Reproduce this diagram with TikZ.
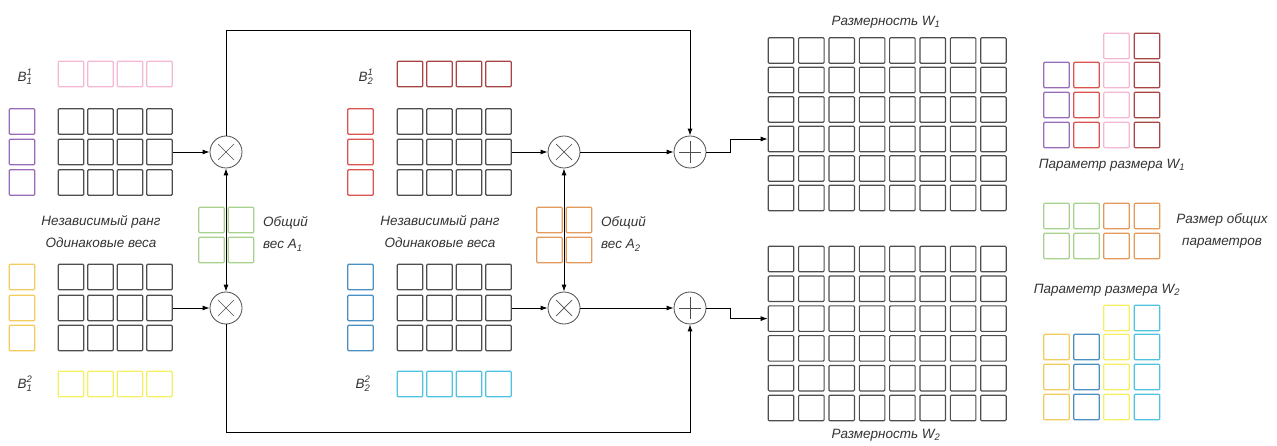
\documentclass[tikz,border=0pt]{standalone}
\usepackage{fontspec}
\usepackage{amsmath}
\setmainfont{Liberation Sans}
\usetikzlibrary{arrows.meta, positioning}

\definecolor{cellgray}{HTML}{4D4D4D}
\definecolor{txtgray}{HTML}{333333}
\definecolor{pinkc}{HTML}{F4B8D4}
\definecolor{purplec}{HTML}{9A6BB8}
\definecolor{redc}{HTML}{D9534F}
\definecolor{darkredc}{HTML}{A84444}
\definecolor{greenc}{HTML}{A9D18E}
\definecolor{orangec}{HTML}{E39A5B}
\definecolor{goldc}{HTML}{F2CC5C}
\definecolor{yellowc}{HTML}{F5F063}
\definecolor{bluec}{HTML}{4A8FC2}
\definecolor{cyanc}{HTML}{4EC3E0}

\tikzset{
  cell/.style={draw=cellgray, line width=1.1pt, minimum size=25.5pt, inner sep=0pt, rounded corners=1pt},
  op/.style={draw=cellgray, circle, line width=0.8pt, minimum size=32pt, inner sep=0pt, fill=white},
  mul/.style={op, path picture={
      \draw[line width=0.7pt] ([shift={(-8pt,-8pt)}]path picture bounding box.center) -- ++(16pt,16pt)
        ([shift={(-8pt,8pt)}]path picture bounding box.center) -- ++(16pt,-16pt);}},
  add/.style={op, path picture={
      \draw[line width=0.7pt] ([shift={(-11pt,0pt)}]path picture bounding box.center) -- ++(22pt,0pt)
        ([shift={(0pt,-11pt)}]path picture bounding box.center) -- ++(0pt,22pt);}},
  lbl/.style={font=\fontsize{13.5}{22}\selectfont\itshape, text=txtgray, align=center, inner sep=0pt},
  link/.style={line width=0.9pt, -{Latex[length=7pt,width=5pt]}},
}

\begin{document}
\begin{tikzpicture}[x=1pt, y=-1pt]
  \useasboundingbox (0,0) rectangle (1277,446);

  % Weight grids
  \foreach \r/\ya/\yb in {1/121.5/277, 2/152/308, 3/182.5/338}{
    \foreach \c in {1,...,4}{
      \node[cell] (la-\r-\c) at ({71+29.5*(\c-1)},\ya) {};
      \node[cell] (lb-\r-\c) at ({71+29.5*(\c-1)},\yb) {};
      \node[cell] (ma-\r-\c) at ({410+29.5*(\c-1)},\ya) {};
      \node[cell] (mb-\r-\c) at ({410+29.5*(\c-1)},\yb) {};
    }
    \node[cell, draw=purplec] (pa-\r) at (22,\ya) {};
    \node[cell, draw=goldc] (pb-\r) at (22,\yb) {};
    \node[cell, draw=redc] (ra-\r) at (360.5,\ya) {};
    \node[cell, draw=bluec] (rb-\r) at (360.5,\yb) {};
  }
  \foreach \c in {1,...,4}{
    \node[cell, draw=pinkc] (ba-\c) at ({71+29.5*(\c-1)},74) {};
    \node[cell, draw=yellowc] (bb-\c) at ({71+29.5*(\c-1)},384) {};
    \node[cell, draw=darkredc] (ca-\c) at ({410+29.5*(\c-1)},74) {};
    \node[cell, draw=cyanc] (cb-\c) at ({410+29.5*(\c-1)},384) {};
  }

  % Shared weights
  \foreach \r/\y in {1/220, 2/250}{
    \foreach \c/\x in {1/211.5, 2/241}{
      \node[cell, draw=greenc] (sa-\r-\c) at (\x,\y) {};
    }
    \foreach \c/\x in {1/549.5, 2/579}{
      \node[cell, draw=orangec] (sb-\r-\c) at (\x,\y) {};
    }
  }

  % Output grids
  \foreach \r in {1,...,6}{
    \foreach \c in {1,...,8}{
      \node[cell] (wa-\r-\c) at ({781+30.35*(\c-1)},{50.5+29.5*(\r-1)}) {};
      \node[cell] (wb-\r-\c) at ({781+30.35*(\c-1)},{259+29.8*(\r-1)}) {};
    }
  }

  % Legend
  \foreach \y in {75, 105, 135}{
    \node[cell, draw=purplec] at (1056.5,\y) {};
    \node[cell, draw=redc] at (1086.5,\y) {};
  }
  \foreach \y in {46, 75, 105, 135}{
    \node[cell, draw=pinkc] at (1116.5,\y) {};
    \node[cell, draw=darkredc] at (1147,\y) {};
  }
  \foreach \y in {216, 246}{
    \node[cell, draw=greenc] at (1056.5,\y) {};
    \node[cell, draw=greenc] at (1086.5,\y) {};
    \node[cell, draw=orangec] at (1116.5,\y) {};
    \node[cell, draw=orangec] at (1147,\y) {};
  }
  \foreach \y in {347, 377, 407}{
    \node[cell, draw=goldc] at (1056.5,\y) {};
    \node[cell, draw=bluec] at (1086.5,\y) {};
  }
  \foreach \y in {318, 347, 377, 407}{
    \node[cell, draw=yellowc] at (1116.5,\y) {};
    \node[cell, draw=cyanc] at (1147,\y) {};
  }

  % Operators
  \node[mul] (m1) at (226,152) {};
  \node[mul] (m2) at (226,308) {};
  \node[mul] (m3) at (564,152) {};
  \node[mul] (m4) at (564,308) {};
  \node[add] (p1) at (690,152) {};
  \node[add] (p2) at (690,308) {};
  \coordinate (tl) at (226,30);
  \coordinate (bl) at (226,432);
  \coordinate (k1) at (730,152);
  \coordinate (k2) at (730,308);

  % Labels
  \node[lbl] (b11) at (25,77) {B$_{\text{1}}^{\text{1}}$};
  \node[lbl] (b12) at (25,384) {B$_{\text{1}}^{\text{2}}$};
  \node[lbl] (b21) at (366,77) {B$_{\text{2}}^{\text{1}}$};
  \node[lbl] (b22) at (363,384) {B$_{\text{2}}^{\text{2}}$};
  \node[lbl] (ir1) at (101,232) {Независимый ранг\\Одинаковые веса};
  \node[lbl] (ir2) at (440,232) {Независимый ранг\\Одинаковые веса};
  \node[lbl, align=left, anchor=west] (ga1) at (263,234) {Общий\\вес A\textsubscript{1}};
  \node[lbl, align=left, anchor=west] (ga2) at (601,234) {Общий\\вес A\textsubscript{2}};
  \node[lbl] (dw1) at (886,22) {Размерность W\textsubscript{1}};
  \node[lbl] (dw2) at (886,435) {Размерность W\textsubscript{2}};
  \node[lbl] (pw1) at (1112,165) {Параметр размера W\textsubscript{1}};
  \node[lbl] (sh) at (1222,231) {Размер общих\\параметров};
  \node[lbl] (pw2) at (1107,290) {Параметр размера W\textsubscript{2}};

  % Edges
  \draw[link] (la-2-4) -- (m1);
  \draw[link] (lb-2-4) -- (m2);
  \draw[link] (ma-2-4) -- (m3);
  \draw[link] (mb-2-4) -- (m4);
  \draw[link, {Latex[length=7pt,width=5pt]}-{Latex[length=7pt,width=5pt]}] (m1) -- (m2);
  \draw[link, {Latex[length=7pt,width=5pt]}-{Latex[length=7pt,width=5pt]}] (m3) -- (m4);
  \draw[link] (m1) -- (tl) -| (p1);
  \draw[link] (m2) -- (bl) -| (p2);
  \draw[link] (m3) -- (p1);
  \draw[link] (m4) -- (p2);
  \draw[link] (p1) -- (k1) |- (wa-4-1);
  \draw[link] (p2) -- (k2) |- (wb-3-1);
\end{tikzpicture}
\end{document}
